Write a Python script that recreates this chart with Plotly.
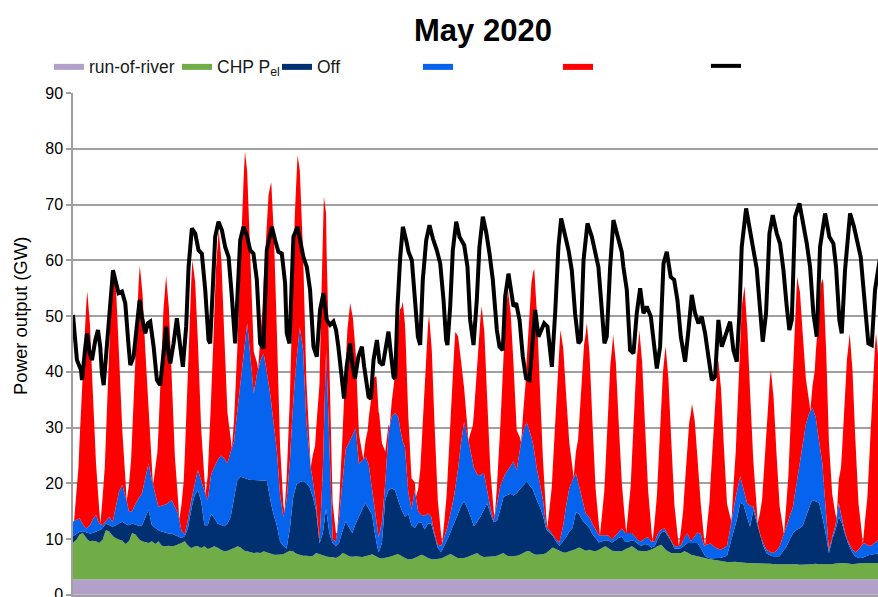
import plotly.graph_objects as go

# ---------------- data (GW); hour 0 = 1 May 2020 00:00 ----------------
N_DAYS = 31
STEP_H = 3                                   # resolution of the stacked base series
SOLAR_HOURS = [1, 5, 8, 10.5, 13, 15.5, 18, 21]  # sample hours of the solar series (per day)

RUN_OF_RIVER_H = list(range(0, 24 * N_DAYS + 1, 24))
RUN_OF_RIVER_GW = [2.8, 2.8, 2.8, 2.8, 2.8, 2.8, 2.8, 2.8, 2.8, 2.8, 2.8, 2.8, 2.8, 2.8, 2.8, 2.8,
                   2.8, 2.8, 2.8, 2.8, 2.8, 2.8, 2.8, 2.8, 2.8, 2.8, 2.8, 2.8, 2.8, 2.8, 2.8, 2.8]

# 3-hourly values, one row per day (00,03,...,21h), last value = 31 May 24h
CHP_GW = [
    6.5, 7.1, 8.0, 8.3, 7.4, 6.8, 6.9, 6.8,
    6.5, 7.1, 8.8, 8.6, 7.7, 7.4, 7.1, 6.9,
    6.3, 6.8, 8.3, 8.0, 7.2, 6.8, 6.6, 6.5,
    6.8, 6.3, 6.8, 6.0, 5.9, 6.0, 5.9, 6.0,
    6.2, 6.5, 6.8, 6.0, 5.6, 5.9, 5.9, 5.6,
    5.9, 5.4, 5.6, 5.9, 5.7, 5.3, 5.0, 5.1,
    5.3, 5.6, 5.9, 5.7, 5.1, 5.0, 4.8, 4.7,
    4.8, 4.7, 5.0, 4.8, 4.5, 4.4, 4.4, 4.4,
    4.5, 4.8, 5.1, 5.0, 4.5, 4.4, 4.2, 4.2,
    4.1, 4.2, 4.7, 4.5, 4.2, 4.1, 4.0, 4.0,
    3.8, 4.1, 4.7, 4.5, 4.1, 4.0, 4.1, 4.0,
    4.0, 4.1, 4.2, 4.5, 4.1, 3.8, 3.7, 3.8,
    4.0, 4.1, 4.4, 4.5, 4.1, 3.8, 3.6, 3.6,
    3.8, 4.1, 4.4, 4.2, 3.8, 3.6, 3.6, 3.6,
    3.7, 4.0, 4.4, 4.5, 4.1, 3.8, 3.8, 3.8,
    4.0, 4.2, 4.5, 4.7, 4.2, 4.0, 4.0, 4.0,
    4.1, 4.2, 4.5, 4.7, 4.2, 4.1, 4.1, 4.2,
    4.4, 4.7, 5.0, 5.0, 4.5, 4.4, 4.4, 4.5,
    4.7, 5.3, 5.7, 5.4, 5.0, 4.8, 4.8, 5.0,
    5.1, 5.4, 5.7, 5.4, 5.1, 5.3, 5.1, 5.0,
    5.3, 5.7, 5.9, 5.6, 5.1, 5.0, 5.0, 5.0,
    5.4, 5.6, 5.9, 5.6, 5.1, 5.0, 5.0, 5.1,
    5.3, 5.6, 6.0, 6.2, 5.4, 5.0, 4.7, 4.7,
    4.7, 4.7, 5.0, 4.8, 4.4, 4.2, 4.1, 4.0,
    3.8, 3.6, 3.6, 3.5, 3.4, 3.2, 3.2, 3.1,
    3.1, 3.2, 3.1, 3.0, 3.0, 2.9, 2.9, 2.9,
    2.9, 2.8, 2.9, 2.9, 2.8, 2.7, 2.7, 2.7,
    2.7, 2.7, 2.7, 2.8, 2.7, 2.6, 2.6, 2.6,
    2.7, 2.7, 2.8, 2.7, 2.7, 2.6, 2.6, 2.7,
    2.8, 2.9, 2.9, 2.9, 2.8, 2.7, 2.8, 2.9,
    2.9, 2.9, 2.9, 2.9, 2.9, 2.9, 2.9, 2.9,
    2.9,
]

OFFSHORE_GW = [
    1.2, 1.1, 0.5, 0.3, 1.0, 1.4, 1.4, 1.7,
    2.2, 2.1, 1.2, 1.1, 1.7, 2.3, 3.0, 3.4,
    3.6, 2.9, 1.7, 1.8, 2.3, 2.9, 4.6, 5.9,
    2.9, 2.9, 2.0, 2.5, 2.5, 2.2, 2.3, 1.9,
    1.5, 0.9, 0.9, 3.2, 7.1, 9.1, 10.1, 8.4,
    3.8, 4.3, 6.1, 5.1, 4.3, 4.5, 4.5, 4.9,
    5.9, 9.1, 11.9, 12.7, 13.1, 13.0, 13.0, 13.1,
    13.0, 13.1, 12.8, 12.8, 9.7, 7.3, 5.3, 2.3,
    1.4, 0.7, 4.1, 9.7, 12.5, 13.0, 13.4, 13.0,
    12.4, 10.5, 7.5, 1.9, 4.0, 8.6, 4.2, 2.5,
    2.1, 2.5, 4.0, 5.9, 5.1, 4.3, 5.9, 7.2,
    8.6, 9.5, 8.5, 7.1, 3.3, 1.0, 2.8, 10.4,
    11.9, 12.2, 11.6, 9.5, 8.3, 7.4, 8.2, 6.1,
    5.4, 6.0, 5.8, 4.7, 6.2, 6.4, 4.0, 2.0,
    1.2, 2.0, 2.8, 4.1, 5.9, 7.7, 9.2, 10.2,
    8.8, 7.0, 5.0, 5.6, 7.0, 8.5, 9.6, 7.8,
    6.1, 6.3, 7.9, 10.1, 10.9, 11.3, 10.9, 11.2,
    11.8, 12.1, 12.5, 11.8, 11.5, 9.9, 8.7, 6.9,
    4.2, 3.1, 2.1, 1.3, 1.0, 1.9, 2.7, 3.5,
    4.1, 6.6, 6.0, 5.1, 4.8, 4.1, 3.0, 2.4,
    1.3, 1.1, 1.1, 1.3, 1.5, 2.0, 2.4, 2.6,
    1.3, 1.1, 1.1, 1.2, 1.1, 1.0, 1.3, 1.1,
    0.4, 0.3, 1.4, 2.2, 3.2, 2.8, 2.1, 0.8,
    0.7, 0.9, 1.0, 1.7, 2.1, 2.3, 2.4, 1.6,
    0.5, 0.3, 0.1, 0.3, 0.4, 0.6, 0.8, 1.1,
    3.3, 5.3, 7.6, 10.7, 10.4, 8.3, 6.5, 9.5,
    7.3, 4.9, 3.1, 1.8, 1.5, 1.4, 1.4, 1.4,
    2.3, 3.1, 4.3, 5.4, 6.1, 6.5, 7.0, 8.6,
    10.3, 11.5, 11.2, 11.0, 8.6, 5.6, 2.1, 4.4,
    5.9, 8.3, 7.1, 4.9, 3.4, 2.2, 1.3, 0.9,
    0.9, 1.2, 1.4, 1.5, 1.7, 1.8, 1.9, 1.9,
    1.9,
]

ONSHORE_GW = [
    2.6, 2.5, 2.4, 1.1, 0.7, 1.3, 2.4, 3.0,
    1.3, 0.5, 0.5, 1.5, 0.8, 3.0, 5.6, 6.6,
    5.1, 2.5, 2.2, 3.8, 5.0, 5.7, 7.0, 8.4,
    8.0, 6.0, 4.2, 4.7, 4.9, 5.5, 6.0, 5.1,
    4.0, 1.3, 0.3, 1.5, 1.5, 2.2, 3.6, 3.7,
    6.0, 4.5, 7.0, 9.2, 11.4, 12.4, 12.2, 10.8,
    11.7, 10.0, 12.4, 17.3, 23.0, 27.9, 22.1, 15.5,
    19.1, 21.4, 22.7, 19.6, 19.0, 16.5, 13.5, 8.5,
    5.3, 8.7, 12.0, 17.5, 22.2, 27.8, 23.6, 11.0,
    4.7, 3.0, 1.0, 0.4, 11.0, 28.5, 17.0, 0.7,
    0.8, 4.6, 9.0, 13.0, 15.3, 17.4, 17.2, 9.5,
    8.7, 8.4, 7.8, 4.6, 4.8, 2.6, 3.8, 3.0,
    10.4, 12.9, 13.8, 15.0, 12.8, 12.5, 3.9, 2.9,
    6.8, 2.1, 1.3, 2.5, 1.8, 1.2, 0.6, 0.6,
    1.1, 1.5, 2.3, 3.4, 5.2, 7.5, 11.2, 14.2,
    13.0, 11.8, 10.5, 8.5, 7.4, 6.6, 2.5, 1.0,
    0.3, 2.7, 4.3, 3.6, 4.2, 4.8, 6.1, 4.2,
    7.4, 9.7, 10.7, 9.7, 8.2, 5.9, 4.2, 2.8,
    0.6, 0.3, 0.2, 0.3, 0.6, 2.3, 5.5, 7.8,
    8.6, 7.0, 5.0, 3.5, 1.9, 1.9, 1.9, 1.4,
    1.3, 1.0, 0.9, 0.9, 0.5, 0.8, 1.0, 1.5,
    1.6, 1.6, 1.3, 0.8, 0.7, 0.8, 1.1, 1.3,
    1.0, 0.9, 0.8, 0.5, 0.5, 0.2, 0.3, 0.4,
    0.5, 0.5, 1.5, 1.7, 0.3, 1.1, 1.9, 2.5,
    1.7, 2.4, 2.7, 2.0, 1.7, 1.5, 1.6, 1.8,
    2.8, 4.5, 5.0, 4.7, 2.8, 2.4, 3.8, 0.6,
    0.8, 0.5, 0.5, 0.6, 0.6, 0.6, 1.0, 1.8,
    2.5, 3.3, 4.2, 4.6, 7.8, 10.7, 14.6, 16.6,
    16.8, 16.6, 15.0, 11.0, 9.5, 4.0, 0.5, 0.5,
    1.0, 2.5, 0.7, 0.4, 0.3, 0.6, 0.7, 1.5,
    2.4, 2.4, 1.7, 1.6, 2.0, 2.4, 2.4, 2.4,
    2.4,
]

# solar, one row per day at SOLAR_HOURS, final value = 1 June 01h
SOLAR_GW = [
    0, 9.3, 23.3, 36.0, 42.4, 36.0, 23.3, 9.3,
    0, 9.8, 24.6, 38.0, 44.7, 38.0, 24.6, 9.8,
    0, 9.1, 22.8, 35.2, 41.4, 35.2, 22.8, 9.1,
    0, 9.0, 22.6, 34.9, 41.0, 34.9, 22.6, 9.0,
    0, 9.2, 23.1, 35.7, 42.0, 35.7, 23.1, 9.2,
    0, 9.0, 22.5, 34.8, 40.9, 34.8, 22.5, 9.0,
    0, 7.5, 18.6, 28.8, 33.9, 25.5, 16.5, 7.5,
    0, 8.7, 21.8, 33.7, 39.6, 33.7, 21.8, 8.7,
    0, 7.7, 19.2, 29.7, 34.9, 26.5, 17.5, 7.5,
    0, 9.3, 23.2, 35.8, 42.1, 20.0, 13.5, 6.5,
    0, 5.4, 13.5, 20.9, 24.6, 20.9, 13.5, 5.4,
    0, 5.7, 14.1, 21.8, 25.7, 21.8, 14.1, 5.7,
    0, 5.5, 13.8, 21.3, 25.1, 21.3, 13.8, 5.5,
    0, 7.9, 19.7, 30.4, 35.8, 30.4, 19.7, 7.9,
    0, 6.1, 15.3, 23.7, 27.9, 23.7, 15.3, 6.1,
    0, 6.6, 16.6, 25.7, 30.2, 25.7, 16.6, 6.6,
    0, 7.1, 17.8, 27.5, 32.3, 27.5, 17.8, 7.1,
    0, 7.2, 18.0, 27.9, 32.8, 27.9, 18.0, 7.2,
    0, 8.2, 20.5, 31.7, 37.3, 31.7, 20.5, 8.2,
    0, 7.5, 18.9, 29.2, 34.3, 29.2, 18.9, 7.5,
    0, 8.0, 20.1, 31.0, 36.5, 31.0, 20.1, 8.0,
    0, 8.3, 20.8, 32.1, 37.8, 32.1, 20.8, 8.3,
    0, 7.3, 18.2, 28.1, 33.0, 28.1, 18.2, 7.3,
    0, 5.4, 13.4, 20.7, 24.4, 20.7, 13.4, 5.4,
    0, 7.5, 18.6, 28.8, 33.9, 28.8, 18.6, 7.5,
    0, 8.2, 20.5, 31.6, 37.2, 31.6, 20.5, 8.2,
    0, 7.2, 18.0, 27.8, 32.7, 27.8, 18.0, 7.2,
    0, 8.1, 20.1, 31.1, 36.6, 31.1, 20.1, 8.1,
    0, 7.7, 19.4, 29.9, 35.2, 29.9, 19.4, 7.7,
    0, 8.3, 20.8, 32.2, 37.9, 32.2, 20.8, 8.3,
    0, 8.2, 20.5, 31.7, 37.3, 31.7, 20.5, 8.2,
    0,
]

LOAD_H = [0, 3.6, 7.3, 8.2, 11.2, 12.8, 15.2, 17.3, 20.4, 22.8, 24.9, 26.4, 28.0, 31.0, 34.0, 36.5,
          38.6, 41.6, 44.7, 47.7, 50.8, 52.3, 55.3, 58.4, 60.8, 62.9, 65.9, 68.4, 70.5, 73.6, 76.6,
          79.6, 82.7, 85.1, 87.2, 88.8, 91.8, 94.8, 97.9, 100.3, 103.3, 105.5, 108.5, 111.6, 114.6,
          117.6, 120.7, 123.7, 125.2, 128.3, 129.8, 132.8, 135.9, 138.9, 142.0, 145.0, 148.0, 152.6,
          155.6, 158.7, 161.7, 164.7, 167.8, 170.8, 173.9, 176.9, 181.5, 184.5, 187.5, 190.6, 193.6,
          195.1, 197.6, 201.2, 204.9, 207.3, 210.3, 213.4, 216.4, 219.5, 222.5, 225.5, 228.6, 231.6,
          234.7, 237.7, 240.1, 242.2, 245.3, 247.4, 249.8, 252.9, 255.3, 257.4, 260.5, 263.7, 265.8,
          269.8, 271.9, 274.3, 277.4, 279.8, 282.8, 285.9, 288.0, 290.1, 292.6, 294.1, 296.2, 298.7,
          301.1, 304.1, 306.3, 309.3, 312.3, 314.8, 316.9, 319.3, 322.4, 325.4, 328.5, 332.1, 335.2,
          338.2, 340.6, 341.8, 344.3, 346.7, 349.8, 352.8, 357.1, 360.1, 362.5, 365.6, 368.6, 371.0,
          374.1, 377.1, 380.2, 383.2, 386.9, 389.3, 392.3, 394.5, 397.5, 399.7, 402.1, 404.5, 407.6,
          410.6, 413.6, 416.7, 419.7, 421.9, 424.9, 428.0, 430.1, 433.1, 434.9, 437.1, 440.1, 443.1,
          445.6, 448.6, 452.3, 455.3, 458.3, 461.4, 463.5, 466.0, 469.6, 473.6, 476.6, 479.6, 482.7,
          485.1, 487.2, 490.3, 493.3, 496.4, 500.9, 502.4, 505.5, 508.5, 511.6, 514.6, 517.7, 520.7,
          523.7, 527.4, 529.8, 532.9, 535.9, 539.0, 542.0, 545.6, 548.7, 551.7, 554.8, 558.7, 561.8,
          564.8, 567.8, 570.9, 573.9, 577.0, 580.0, 583.1, 586.1, 589.1, 592.2, 596.1, 599.8, 602.8,
          605.9, 608.3, 610.4, 614.4, 618.0, 621.1, 624.1, 627.2, 629.6, 632.6, 635.7, 638.7, 642.4,
          645.4, 648.5, 651.5, 653.9, 656.1, 659.1, 663.1, 666.1, 669.8, 672.8, 675.8, 678.9, 681.9,
          686.5, 690.4, 694.1, 696.5, 699.5, 701.7, 704.7, 709.3, 712.9, 716.0, 719.0, 723.0, 726.0,
          729.1, 732.1, 734.8, 738.0, 744.0]
LOAD_GW = [50.2, 42.1, 40.3, 38.5, 44.4, 46.9, 43.3, 42.1, 45.7, 47.5, 44.4, 39.7, 37.6, 44.5, 53.5, 58.2,
           56.5, 54.1, 54.4, 52.3, 44.5, 41.2, 42.7, 48.1, 52.9, 49.9, 46.9, 48.7, 49.0, 44.5, 38.5,
           37.6, 43.3, 48.1, 43.3, 41.5, 45.1, 49.6, 44.5, 40.9, 48.1, 58.8, 65.7, 64.8, 61.8,
           61.2, 54.7, 45.7, 45.1, 57.6, 64.2, 66.9, 65.4, 62.4, 60.6, 53.5, 45.1, 63.6,
           66.0, 64.5, 61.8, 61.2, 56.5, 45.1, 44.2, 61.8, 66.0, 63.6, 61.5, 61.2, 55.9,
           46.9, 45.1, 64.2, 66.0, 63.6, 60.6, 58.8, 54.7, 44.5, 42.7, 51.1, 54.1, 49.3,
           48.4, 49.0, 47.5, 44.5, 37.9, 35.2, 40.9, 45.1, 40.9, 38.8, 42.7, 44.5, 40.9,
           35.5, 35.2, 42.1, 45.7, 41.8, 41.2, 45.1, 47.2, 43.3, 39.1, 38.8, 51.7, 60.6,
           66.0, 63.6, 61.5, 60.0, 52.9, 46.3, 44.8, 56.5, 63.6, 66.3, 63.9, 61.8, 59.4,
           52.9, 45.7, 44.8, 51.7, 61.8, 66.9, 64.2, 62.7, 58.8, 49.3, 44.8, 52.9, 62.4,
           67.8, 65.1, 61.2, 56.5, 47.5, 44.5, 43.9, 53.5, 57.6, 54.7, 51.7, 52.3, 49.3,
           42.7, 38.8, 38.5, 45.7, 51.1, 46.3, 47.5, 48.7, 48.1, 43.9, 40.9, 50.5, 62.4,
           67.5, 65.1, 61.8, 58.2, 50.5, 45.1, 45.7, 60.0, 66.6, 64.2, 61.8, 58.8, 51.1,
           45.1, 46.3, 58.8, 67.2, 64.8, 61.5, 58.8, 54.7, 43.9, 43.3, 50.5, 55.0, 50.5,
           51.7, 49.9, 46.3, 40.6, 44.5, 59.4, 61.5, 57.0, 56.5, 52.9, 46.3, 41.8, 47.5,
           53.8, 50.5, 48.7, 49.9, 46.9, 42.7, 38.5, 39.1, 49.3, 44.5, 46.9, 49.0, 43.9,
           41.8, 50.5, 62.4, 69.3, 65.4, 62.4, 58.5, 51.1, 45.4, 50.5, 64.8, 68.1, 64.8,
           63.0, 58.2, 51.7, 47.5, 49.3, 67.8, 70.2, 67.2, 63.0, 58.8, 50.5, 46.3, 62.4,
           68.4, 64.2, 63.0, 58.8, 49.3, 46.9, 58.2, 68.4, 66.0, 63.0, 60.6, 51.7, 45.1,
           44.8, 54.7, 58.2, 62.0, 60.0]

# ---------------- figure ----------------
grid_h = list(range(0, 24 * N_DAYS + 1, STEP_H))
solar_h = [24 * d + h for d in range(N_DAYS) for h in SOLAR_HOURS] + [24 * N_DAYS + 1]

FONT = "Liberation Sans, Arial, sans-serif"
BLANK = "\u00a0"
fig = go.Figure()

def area(x, y, color, name, legend, first=False):
    kw = dict(stackgaps="interpolate") if first else {}
    fig.add_trace(go.Scatter(
        x=x, y=y, mode="lines", stackgroup="gen", line=dict(width=0, color=color),
        fillcolor=color, name=name, legend=legend, showlegend=True, hoverinfo="skip", **kw))

area(RUN_OF_RIVER_H, RUN_OF_RIVER_GW, "#b1a0c7", "run-of-river", "legend", first=True)
area(grid_h, CHP_GW, "#70ad47", "CHP P<sub>el</sub>", "legend2")
area(grid_h, OFFSHORE_GW, "#003070", "Off", "legend3")
area(grid_h, ONSHORE_GW, "#0563ee", BLANK, "legend4")
area(solar_h, SOLAR_GW, "#ff0000", BLANK, "legend5")

fig.add_trace(go.Scatter(x=LOAD_H, y=LOAD_GW, mode="lines", line=dict(color="black", width=4),
                         name=BLANK, legend="legend6", showlegend=True, hoverinfo="skip"))

def leg(x_px):
    return dict(x=x_px / 878, y=1 - 66 / 597, xref="container", yref="container",
                xanchor="left", yanchor="middle", orientation="h",
                bgcolor="rgba(0,0,0,0)", borderwidth=0,
                font=dict(family=FONT, size=17.5, color="#1a1a1a"))

fig.update_layout(
    width=878, height=597,
    margin=dict(l=73, r=0, t=93, b=2, autoexpand=False),
    paper_bgcolor="white", plot_bgcolor="white",
    title=dict(text="<b>May 2020</b>", x=483 / 878, y=1 - 30 / 597, xref="container", yref="container",
               xanchor="center", yanchor="middle", font=dict(family=FONT, size=31, color="black")),
    legend=leg(49), legend2=leg(177), legend3=leg(277),
    legend4=leg(418), legend5=leg(558), legend6=leg(706),
    xaxis=dict(range=[0, 734.8], showgrid=False, showticklabels=False, ticks="",
               showline=True, linecolor="#a0a0a0", linewidth=2, zeroline=False, automargin=False),
    yaxis=dict(range=[-0.03, 90], dtick=10, tick0=0, showgrid=True, gridcolor="#a0a0a0", gridwidth=2,
               showline=True, linecolor="#a0a0a0", linewidth=1.5, ticks="outside", ticklen=5,
               tickcolor="#a0a0a0", tickwidth=1.5, zeroline=False, ticklabeloverflow="allow",
               automargin=False, tickfont=dict(family=FONT, size=16, color="black")),
    annotations=[dict(text="Power output (GW)", x=(20 - 73) / 805, y=(595 - 316) / 502,
                      xref="paper", yref="paper", textangle=-90, showarrow=False,
                      xanchor="center", yanchor="middle",
                      font=dict(family=FONT, size=18.5, color="black"))],
)

fig.write_html("out.html",
               config={"displayModeBar": False},
               post_script="document.body.style.margin='0';document.body.style.overflow='hidden';")
